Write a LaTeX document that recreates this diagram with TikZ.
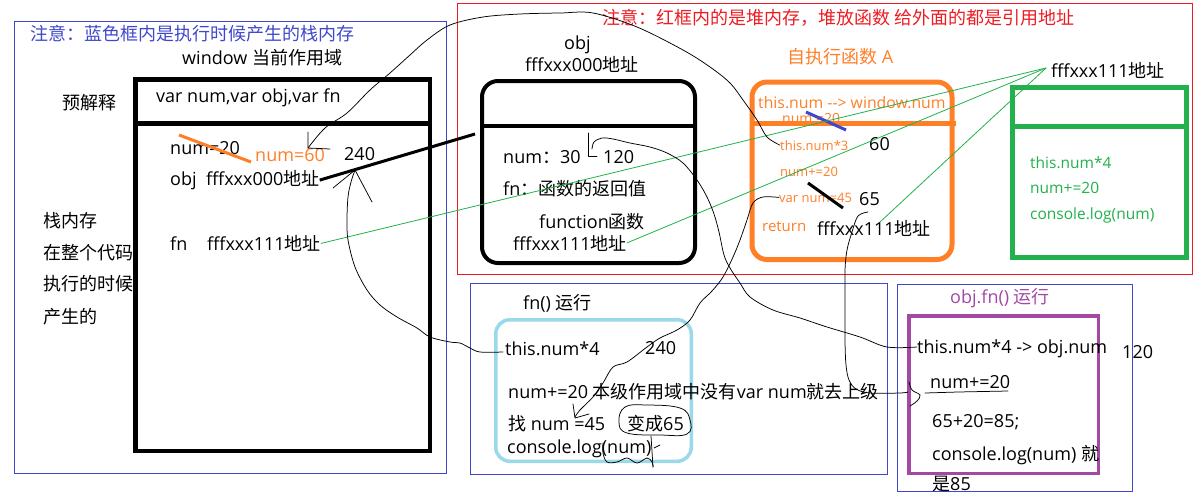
\documentclass[tikz,border=0pt]{standalone}
\usepackage{fontspec}
\setmainfont{Open Sans}
\newfontfamily\cj{Noto Sans CJK SC}
\newcommand\zh[1]{{\cj #1}}
\definecolor{bluef}{RGB}{63,72,204}
\definecolor{redc}{RGB}{237,28,36}
\definecolor{orng}{RGB}{255,127,39}
\definecolor{grn}{RGB}{34,177,76}
\definecolor{ltb}{RGB}{153,217,234}
\definecolor{purp}{RGB}{163,73,164}
\begin{document}
\begin{tikzpicture}[x=1pt,y=-1pt,
  txt/.style={anchor=base west, inner sep=0pt, font=\fontsize{18}{20}\selectfont},
  otxt/.style={txt, text=orng, font=\fontsize{13}{15}\selectfont},
  gtxt/.style={txt, text=grn, font=\fontsize{15.5}{17}\selectfont},
  frame/.style={draw=bluef, line width=1},
  hand/.style={line width=0.75, line join=round, line cap=round},
  glink/.style={draw=grn, line width=0.8}]
\useasboundingbox (0,0) rectangle (1194,499);
\fill[white] (0,0) rectangle (1194,499);

% ---------- frames ----------
\draw[frame] (14.5,21.5) rectangle (446.5,473.5);
\draw[draw=redc, line width=1] (457.5,3.5) rectangle (1192.5,274.5);
\draw[frame] (470.5,283.5) rectangle (887.5,474.5);
\draw[frame] (897.5,284.5) rectangle (1132.5,491.5);

% ---------- stack (window) ----------
\node[txt, text=bluef] (t1) at (30,40) {\zh{注意：蓝色框内是执行时候产生的栈内存}};
\node[txt] (win) at (182,64.5) {window \zh{当前作用域}};
\node[txt] (yjs) at (62,109.5) {\zh{预解释}};
\node[txt] (s1) at (43,227) {\zh{栈内存}};
\node[txt] (s2) at (43,259) {\zh{在整个代码}};
\node[txt] (s3) at (43,290) {\zh{执行的时候}};
\node[txt] (s4) at (43,323) {\zh{产生的}};
\draw[line width=4.5, fill=white] (135.25,79.25) rectangle (429.75,450.75);
\draw[line width=4.5] (135.25,123.3) -- (429.75,123.3);
\node[txt] (pre) at (156,102.5) {var num,var obj,var fn};
\node[txt] (n20) at (170,154) {num=20};
\node[txt, text=orng] (n60) at (255,161.5) {num=60};
\node[txt] (w240) at (344,160) {240};
\node[txt] (objaddr) at (170,185.5) {obj\ \ fffxxx000\zh{地址}};
\node[txt] (fnlbl) at (170,250.5) {fn};
\node[txt] (fnaddr) at (207,250.5) {fffxxx111\zh{地址}};
\draw[orng, line width=3] (179,135) -- (251,162);

% ---------- heap ----------
\node[txt, text=redc] (t2) at (602,24) {\zh{注意：红框内的是堆内存，堆放函数 给外面的都是引用地址}};
\node[txt] (objl) at (564,49.5) {obj};
\node[txt] (objad) at (525,71) {fffxxx000\zh{地址}};
\draw[line width=4, rounded corners=16] (482,81) rectangle (695,263);
\draw[line width=4] (482,126) -- (695,126);
\node[txt] (onum) at (503,163) {num\zh{：}30};
\node[txt] (o120) at (603,163) {120};
\node[txt] (ofn) at (503,195.5) {fn\zh{：函数的返回值}};
\node[txt] (ofunc) at (539,228) {function\zh{函数}};
\node[txt] (ofnad) at (513,250) {fffxxx111\zh{地址}};

% orange self-executing function
\node[txt, text=orng] (selfA) at (787,63) {\zh{自执行函数} A};
\draw[orng, line width=5, rounded corners=15] (752,82) rectangle (952,259.5);
\node[txt, text=orng, font=\fontsize{15.8}{17}\selectfont] (ohead) at (758,108) {this.num {-}{-}> window.num};
\begin{scope}
  \clip (760,100) rectangle (870,121);
  \node[txt, text=orng, font=\fontsize{14}{16}\selectfont] (on20) at (782,123.5) {num =20};
\end{scope}
\draw[orng, line width=5] (752,123.5) -- (956,123.5);
\node[otxt] (tn3) at (780,150) {this.num*3};
\node[txt] (a60) at (869,150) {60};
\node[otxt] (on2) at (780,176) {num+=20};
\node[otxt] (vn45) at (779,202) {var num=45};
\node[txt] (a65) at (859,205) {65};
\node[txt, text=orng, font=\fontsize{15}{17}\selectfont] (oret) at (762,231) {return};
\node[txt] (oraddr) at (817,235) {fffxxx111\zh{地址}};
\draw[bluef, line width=3] (806,112) -- (846,130);
\draw[line width=3] (808,183) -- (843,208);

% green function object
\node[txt] (glbl) at (1051,77) {fffxxx111\zh{地址}};
\draw[grn, line width=5] (1012.5,87.5) rectangle (1186.5,257.5);
\draw[grn, line width=5] (1012.5,126.5) -- (1186.5,126.5);
\node[gtxt] (g1) at (1030,168) {this.num*4};
\node[gtxt] (g2) at (1030,193.5) {num+=20};
\node[gtxt] (g3) at (1030,219) {console.log(num)};

% ---------- fn() run ----------
\node[txt] (fnrun) at (523,309) {fn() \zh{运行}};
\draw[ltb, line width=3.5, rounded corners=14] (495.75,319.75) rectangle (691.25,461.25);
\node[txt] (fn4) at (505,355) {this.num*4};
\node[txt] (f240) at (645,354) {240};
\node[txt] (fl2) at (508,398) {num+=20 \zh{本级作用域中没有}var num\zh{就去上级}};
\node[txt] (fl3) at (508,430) {\zh{找} num =45};
\node[txt] (fl3b) at (627,430) {\zh{变成}65};
\node[txt] (fl4) at (507,453) {console.log(num)};

% ---------- obj.fn() run ----------
\node[txt, text=purp] (ofrun) at (950,303) {obj.fn() \zh{运行}};
\draw[purp, line width=3.5] (908.75,315.75) rectangle (1098.25,473.25);
\node[txt] (of1) at (917,353) {this.num*4 -> obj.num};
\node[txt] (of120) at (1122,358) {120};
\node[txt] (of2) at (930,388) {num+=20};
\node[txt] (of3) at (932,427) {65+20=85;};
\node[txt] (of4) at (932,460) {console.log(num) \zh{就}};
\node[txt] (of5) at (932,490) {\zh{是}85};

% ---------- reference lines ----------
\draw[line width=3] (objaddr.east) -- (475,134);
\coordinate (gs) at (1046,68);
\coordinate (gD) at (880,222);
\draw[glink] (gs) -- (fnaddr.east);
\draw[glink] (gs) -- (ofnad.east);
\draw[glink] (gs) -- (gD);

% ---------- hand-drawn connectors ----------
% this.num*3 -> window num=60
\draw[hand] plot[smooth, tension=0.55] coordinates {(308,148) (325,128) (347,113) (370,90) (390,73) (410,55) (427,40) (450,25) (483,17) (520,14) (560,13) (593,13) (637,27) (683,50) (710,67) (730,83) (743,100) (757,120) (767,137) (tn3.west)};
\draw[hand] (308,132) -- (308,148) -- (330,149);
% obj num 30 -> obj.fn this.num*4
\draw[hand] (588,133) -- (588,156) -- (597,156);
\coordinate (of1w) at (917,347);
\draw[hand] plot[smooth, tension=0.55] coordinates {(592,149) (594,142) (602,138) (613,139) (630,143) (650,147) (667,153) (683,163) (697,180) (707,197) (714,214) (719,232) (724,255) (730,268) (740,283) (750,297) (773,310) (800,318) (827,327) (860,337) (887,347) (of1w)};
% var num=45 -> fn() num =45
\draw[hand] plot[smooth, tension=0.55] coordinates {(vn45.west) (763,197) (753,203) (747,220) (740,240) (733,257) (723,277) (712,291) (700,303) (690,320) (677,330) (660,338) (647,347) (627,362) (613,367) (603,383) (593,397) (580,410) (575,417)};
\draw[hand] (573,404) -- (575,418) -- (589,414);
% 65 -> obj.fn num+=20
\coordinate (c65) at (868,212);
\draw[hand] plot[smooth, tension=0.55] coordinates {(c65) (858,216) (852,232) (847,250) (845,270) (845,300) (845,340) (846,365) (849,380) (856,389) (870,393) (900,393) (908,392)};
\draw[hand] plot[smooth, tension=0.6] coordinates {(909,382) (912,390) (920,395) (917,401) (910,406)};
\draw[hand] (925,393) -- (958,392) -- (1008,391);
% fn() this.num*4 -> window 240
\coordinate (fn4w) at (503,352);
\draw[hand] plot[smooth, tension=0.55] coordinates {(fn4w) (480,352) (470,348) (460,343) (450,342) (430,337) (417,328) (397,317) (380,305) (367,290) (355,267) (348,240) (347,220) (348,197) (351,182) (355,170)};
\draw[hand] (333,188) -- (355,170) -- (372,202);
% ellipse round 变成65
\draw[hand] plot[smooth cycle, tension=0.7] coordinates {(619,422) (625,407) (647,405) (680,408) (690,420) (687,434) (660,435) (627,433)};
% squiggle under console.log(num)
\draw[hand] plot[smooth, tension=0.6] coordinates {(603,443) (603,453) (607,462) (617,462) (627,458) (637,463) (647,458) (652,462) (653,467)};
\draw[hand] (651,436) -- (653,467);
\draw[hand] (654,448) -- (660,445);
\end{tikzpicture}
\end{document}
